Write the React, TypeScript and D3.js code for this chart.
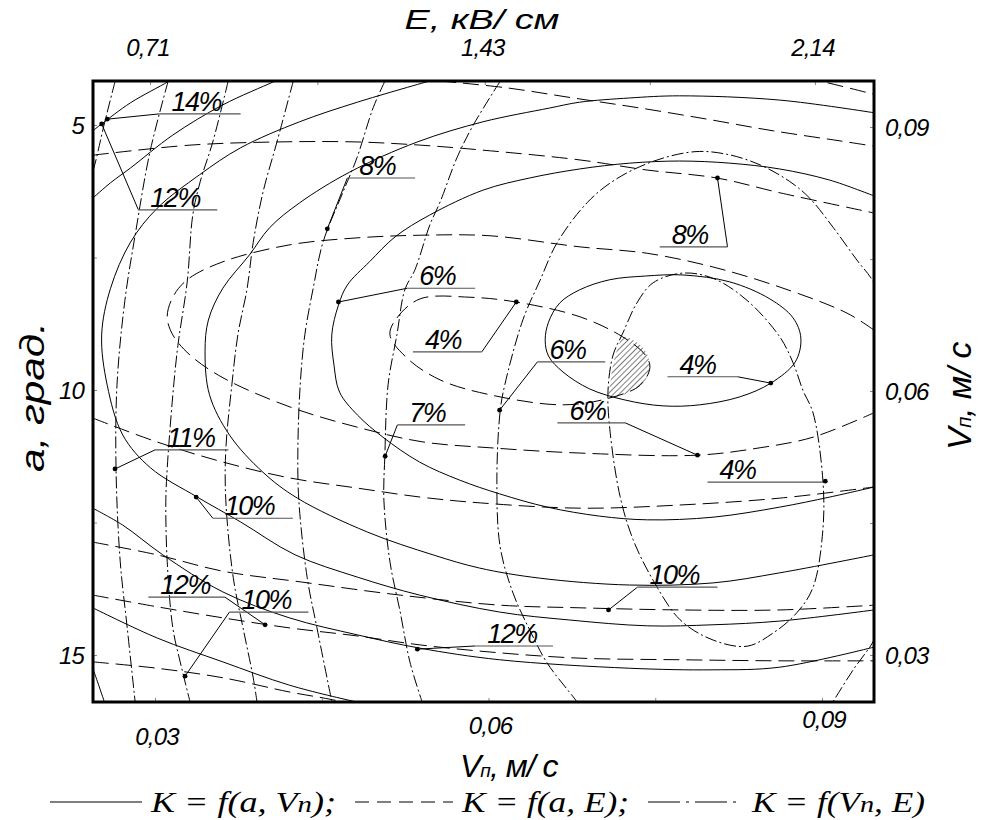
import * as d3 from 'd3';
import React, { useRef, useEffect } from 'react';

// ---- axis ticks ----
const vnTicks = [0.03, 0.06, 0.09];
const vnMinor = [0.03, 0.045, 0.06, 0.075, 0.09];
const aTicks = [5, 10, 15];
const aMinor = [5, 7.5, 10, 12.5, 15];
const eTicks = [0.71, 1.43, 2.14];
const eMinor = [0.71, 1.07, 1.43, 1.785, 2.14];
const vnRightTicks = [0.09, 0.06, 0.03];

// ---- K = f(a, Vn): points are [Vn, a] ----
const solid1 = [[0.0651,9.06],[0.0654,8.72],[0.0664,8.36],[0.0682,8.11],[0.0709,7.92],[0.0741,7.85],[0.0775,7.83],[0.0817,7.96],[0.0853,8.28],[0.0874,8.64],[0.0881,9.02],[0.0876,9.47],[0.0854,9.87],[0.0826,10.13],[0.0790,10.28],[0.0757,10.30],[0.0723,10.19],[0.0691,9.98],[0.0667,9.66],[0.0654,9.36]];
const solid2 = [[0.0947,6.34],[0.0907,6.04],[0.0862,5.83],[0.0817,5.72],[0.0772,5.68],[0.0727,5.72],[0.0682,5.83],[0.0637,6.00],[0.0595,6.23],[0.0547,6.70],[0.0516,7.11],[0.0493,7.58],[0.0473,8.02],[0.0465,8.40],[0.0459,8.96],[0.0461,9.53],[0.0466,10.04],[0.0482,10.47],[0.0505,10.89],[0.0538,11.36],[0.0574,11.70],[0.0610,11.96],[0.0653,12.21],[0.0700,12.38],[0.0743,12.45],[0.0802,12.40],[0.0862,12.21],[0.0907,12.02],[0.0947,11.83]];
const solid3 = [[0.0947,4.77],[0.0862,4.53],[0.0772,4.45],[0.0727,4.49],[0.0682,4.57],[0.0655,4.68],[0.0595,4.94],[0.0536,5.32],[0.0475,5.89],[0.0430,6.47],[0.0403,6.94],[0.0385,7.45],[0.0361,8.08],[0.0348,8.68],[0.0345,9.28],[0.0349,10.09],[0.0367,10.85],[0.0397,11.55],[0.0428,12.04],[0.0491,12.68],[0.0550,13.11],[0.0592,13.36],[0.0646,13.55],[0.0727,13.68],[0.0802,13.64],[0.0862,13.45],[0.0947,13.11]];
const solid4 = [[0.0547,4.17],[0.0482,4.57],[0.0430,4.94],[0.0377,5.43],[0.0340,5.94],[0.0302,6.57],[0.0278,7.21],[0.0260,8.08],[0.0252,8.96],[0.0257,9.91],[0.0271,10.85],[0.0296,11.47],[0.0338,12.02],[0.0377,12.49],[0.0426,13.11],[0.0482,13.53],[0.0538,13.87],[0.0610,14.19],[0.0673,14.34],[0.0743,14.45],[0.0802,14.43],[0.0862,14.36],[0.0947,14.15]];
const solid5a = [[0.0244,6.38],[0.0260,6.09],[0.0278,5.81],[0.0316,5.19],[0.0361,4.62],[0.0406,4.19],[0.0412,4.13]];
const solid5b = [[0.0244,12.23],[0.0271,12.55],[0.0307,13.11],[0.0361,13.81],[0.0421,14.30],[0.0482,14.62],[0.0538,14.87],[0.0610,15.09],[0.0727,15.25],[0.0802,15.28],[0.0862,15.23],[0.0947,14.85]];
const solid6a = [[0.0244,5.11],[0.0252,4.98],[0.0278,4.58],[0.0311,4.19],[0.0315,4.13]];
const solid6b = [[0.0244,14.11],[0.0302,14.68],[0.0361,15.13],[0.0421,15.57],[0.0482,15.89],[0.0489,15.92]];
const solid7 = [[0.0244,15.25],[0.0249,15.55],[0.0255,15.92]];

// ---- K = f(a, E): points are [E, a] ----
const dashed1 = [[1.226,8.96],[1.241,8.64],[1.291,8.28],[1.398,8.25],[1.497,8.34],[1.635,8.62],[1.727,9.00],[1.775,9.34],[1.785,9.58],[1.764,9.91],[1.699,10.15],[1.598,10.28],[1.441,10.09],[1.334,9.81],[1.263,9.40]];
const dashed2 = [[2.267,8.87],[2.209,8.55],[2.065,8.06],[1.921,7.68],[1.779,7.42],[1.635,7.30],[1.441,7.09],[1.291,7.08],[1.155,7.13],[1.011,7.26],[0.867,7.58],[0.790,7.92],[0.759,8.25],[0.747,8.62],[0.759,8.96],[0.796,9.34],[0.867,9.77],[1.011,10.32],[1.155,10.70],[1.297,10.98],[1.441,11.09],[1.635,11.19],[1.886,11.23],[2.022,11.09],[2.136,10.89],[2.267,10.43]];
const dashed3a = [[0.587,5.57],[0.796,5.38],[0.983,5.32],[1.155,5.32],[1.291,5.38],[1.420,5.47],[1.635,5.66],[1.779,5.85],[1.929,6.00],[2.065,6.28],[2.267,6.66]];
const dashed3b = [[0.587,10.53],[0.725,10.98],[0.867,11.36],[1.011,11.66],[1.155,11.85],[1.291,12.02],[1.420,12.13],[1.635,12.23],[1.850,12.17],[2.065,12.04],[2.267,11.83]];
const dashed4a = [[1.334,4.17],[1.478,4.30],[1.620,4.49],[1.764,4.68],[1.908,4.89],[2.050,5.11],[2.194,5.30],[2.267,5.40]];
const dashed4b = [[0.587,12.87],[0.725,13.11],[0.867,13.42],[1.033,13.62],[1.248,13.87],[1.463,14.06],[1.635,14.11],[1.850,14.15],[2.065,14.15],[2.267,14.06]];
const dashed5a = [[2.119,4.11],[2.151,4.17],[2.267,4.42]];
const dashed5b = [[0.587,13.87],[0.725,14.09],[0.867,14.30],[1.011,14.49],[1.155,14.64],[1.291,14.81],[1.463,14.96],[1.635,15.06],[1.850,15.09],[2.065,15.11],[2.267,15.11]];
const dashed6 = [[0.587,15.13],[0.725,15.25],[0.867,15.43],[1.011,15.70],[1.082,15.81],[1.140,15.91]];

// ---- K = f(Vn, E): points are [E, Vn] ----
const dd0 = [[0.635,0.0952],[0.611,0.0902],[0.594,0.0863],[0.585,0.0845]];
const dd1 = [[0.749,0.0952],[0.710,0.0872],[0.678,0.0777],[0.656,0.0703],[0.639,0.0607],[0.637,0.0510],[0.646,0.0406],[0.661,0.0331],[0.678,0.0247]];
const dd2 = [[0.878,0.0952],[0.845,0.0883],[0.818,0.0838],[0.802,0.0800],[0.790,0.0724],[0.770,0.0652],[0.759,0.0595],[0.747,0.0512],[0.744,0.0474],[0.747,0.0406],[0.759,0.0331],[0.775,0.0292],[0.796,0.0247]];
const dd3 = [[1.018,0.0952],[0.983,0.0883],[0.953,0.0826],[0.932,0.0769],[0.919,0.0717],[0.899,0.0664],[0.886,0.0607],[0.873,0.0533],[0.873,0.0476],[0.889,0.0388],[0.910,0.0331],[0.932,0.0274],[0.940,0.0247]];
const dd4 = [[1.215,0.0952],[1.190,0.0922],[1.155,0.0865],[1.125,0.0826],[1.082,0.0769],[1.061,0.0717],[1.043,0.0664],[1.033,0.0607],[1.028,0.0533],[1.030,0.0476],[1.048,0.0388],[1.069,0.0331],[1.101,0.0247]];
const dd5 = [[1.463,0.0952],[1.405,0.0902],[1.370,0.0865],[1.334,0.0815],[1.312,0.0789],[1.280,0.0738],[1.258,0.0715],[1.241,0.0664],[1.222,0.0607],[1.215,0.0526],[1.213,0.0476],[1.226,0.0406],[1.248,0.0349],[1.269,0.0292],[1.295,0.0247]];
const dd6 = [[1.656,0.0226],[1.628,0.0247],[1.564,0.0291],[1.527,0.0328],[1.491,0.0370],[1.463,0.0423],[1.456,0.0499],[1.463,0.0577],[1.473,0.0607],[1.512,0.0681],[1.549,0.0726],[1.585,0.0768],[1.650,0.0814],[1.710,0.0840],[1.792,0.0861],[1.882,0.0872],[1.951,0.0869],[2.022,0.0857],[2.086,0.0838],[2.129,0.0819],[2.179,0.0786],[2.230,0.0749],[2.267,0.0723],[2.308,0.0669],[2.329,0.0590],[2.334,0.0510],[2.319,0.0408],[2.291,0.0351],[2.267,0.0317],[2.222,0.0283],[2.179,0.0247],[2.155,0.0226]];
const dd7 = [[1.727,0.0666],[1.757,0.0700],[1.792,0.0723],[1.856,0.0734],[1.921,0.0728],[1.994,0.0703],[2.065,0.0661],[2.093,0.0632],[2.114,0.0601],[2.136,0.0575],[2.157,0.0499],[2.157,0.0442],[2.136,0.0377],[2.101,0.0348],[2.050,0.0325],[1.994,0.0310],[1.921,0.0317],[1.850,0.0340],[1.792,0.0385],[1.749,0.0431],[1.721,0.0480],[1.699,0.0556],[1.695,0.0601],[1.706,0.0641]];

// optimum zone (hatched), [Vn, a]
const optimum = [[0.0721,9.00],[0.0734,9.11],[0.0743,9.34],[0.0745,9.58],[0.0740,9.85],[0.0727,10.04],[0.0709,10.15],[0.0710,9.81],[0.0713,9.43],[0.0717,9.17]];

// contour labels, positions in [Vn, a]
const notes = [
  { label: '14%', dot: [0.0257, 4.89], a: 4.79, from: 0.0304, to: 0.0377, hook: 'start' },
  { label: '12%', dot: [0.0252, 4.98], a: 6.60, from: 0.0285, to: 0.0356, hook: 'start' },
  { label: '8%', dot: [0.0455, 6.96], a: 6.00, from: 0.0473, to: 0.0534, hook: 'start' },
  { label: '6%', dot: [0.0465, 8.34], a: 8.08, from: 0.0527, to: 0.0588, hook: 'start' },
  { label: '4%', dot: [0.0625, 8.34], a: 9.28, from: 0.0532, to: 0.0594, hook: 'end' },
  { label: '8%', dot: [0.0806, 6.00], a: 7.30, from: 0.0754, to: 0.0815, hook: 'end' },
  { label: '6%', dot: [0.0610, 10.38], a: 9.47, from: 0.0644, to: 0.0705, hook: 'start' },
  { label: '4%', dot: [0.0854, 9.87], a: 9.75, from: 0.0761, to: 0.0824, hook: 'end' },
  { label: '6%', dot: [0.0788, 11.23], a: 10.62, from: 0.0662, to: 0.0723, hook: 'end' },
  { label: '4%', dot: [0.0903, 11.72], a: 11.74, from: 0.0797, to: 0.0903, hook: 'end' },
  { label: '7%', dot: [0.0507, 11.25], a: 10.66, from: 0.0518, to: 0.0579, hook: 'start' },
  { label: '11%', dot: [0.0264, 11.49], a: 11.13, from: 0.0300, to: 0.0366, hook: 'start' },
  { label: '10%', dot: [0.0337, 12.02], a: 12.42, from: 0.0352, to: 0.0424, hook: 'start' },
  { label: '12%', dot: [0.0399, 14.43], a: 13.91, from: 0.0294, to: 0.0363, hook: 'end' },
  { label: '10%', dot: [0.0327, 15.40], a: 14.19, from: 0.0367, to: 0.0438, hook: 'start' },
  { label: '12%', dot: [0.0536, 14.89], a: 14.83, from: 0.0588, to: 0.0658, hook: 'start' },
  { label: '10%', dot: [0.0708, 14.15], a: 13.72, from: 0.0734, to: 0.0806, hook: 'start' },
];

const comma = (v) => String(v).replace('.', ',');

function App() {
  const svgRef = useRef(null);

  useEffect(() => {
    const svg = d3.select(svgRef.current);
    svg.selectAll('*').remove();

    const left = 93, right = 874, top = 81, bottom = 702;
    const sans = '"Liberation Sans", Arial, sans-serif';
    const serif = '"Liberation Serif", "Times New Roman", serif';

    /* Scales */
    const xVn = d3.scaleLinear().domain([0.02442, 0.09468]).range([left, right]);
    const yA = d3.scaleLinear().domain([4.17, 15.887]).range([top, bottom]);
    const xE = d3.scaleLinear().domain([0.5874, 2.267]).range([left, right]);
    const yVn = d3.scaleLinear().domain([0.09523, 0.02466]).range([top, bottom]);

    const defs = svg.append('defs');
    defs.append('clipPath').attr('id', 'plot-clip')
      .append('rect').attr('x', left).attr('y', top)
      .attr('width', right - left).attr('height', bottom - top);
    const pat = defs.append('pattern').attr('id', 'hatch')
      .attr('patternUnits', 'userSpaceOnUse').attr('width', 4).attr('height', 4)
      .attr('patternTransform', 'rotate(45)');
    pat.append('line').attr('x1', 0).attr('y1', 0).attr('x2', 0).attr('y2', 4)
      .attr('stroke', '#000').attr('stroke-width', 1);

    const plot = svg.append('g').attr('clip-path', 'url(#plot-clip)');

    /* Line generators */
    const mk = (sx, sy, closed) =>
      d3.line().x((d) => sx(d[0])).y((d) => sy(d[1]))
        .curve(closed ? d3.curveCatmullRomClosed.alpha(0.5) : d3.curveCatmullRom.alpha(0.5));

    const families = [
      { sx: xVn, sy: yA, dash: null, curves: [[solid1, true], [solid2], [solid3], [solid4], [solid5a], [solid5b], [solid6a], [solid6b], [solid7]] },
      { sx: xE, sy: yA, dash: '16 7', curves: [[dashed1, true], [dashed2], [dashed3a], [dashed3b], [dashed4a], [dashed4b], [dashed5a], [dashed5b], [dashed6]] },
      { sx: xE, sy: yVn, dash: '12 3 2 3', curves: [[dd0], [dd1], [dd2], [dd3], [dd4], [dd5], [dd6], [dd7, true]] },
    ];

    plot.append('path')
      .attr('d', mk(xVn, yA, true)(optimum))
      .attr('fill', 'url(#hatch)').attr('stroke', 'none');

    families.forEach((f) => {
      f.curves.forEach(([pts, closed]) => {
        plot.append('path')
          .attr('d', mk(f.sx, f.sy, !!closed)(pts))
          .attr('fill', 'none')
          .attr('stroke', '#000')
          .attr('stroke-width', 1)
          .attr('stroke-dasharray', f.dash);
      });
    });

    /* Labels with leaders */
    const ann = svg.append('g');
    notes.forEach((n) => {
      const ux0 = xVn(n.from), ux1 = xVn(n.to), uy = yA(n.a);
      const hx = n.hook === 'start' ? ux0 : ux1;
      ann.append('line')
        .attr('x1', xVn(n.dot[0])).attr('y1', yA(n.dot[1]))
        .attr('x2', hx).attr('y2', uy)
        .attr('stroke', '#000').attr('stroke-width', 1);
      ann.append('line')
        .attr('x1', ux0).attr('y1', uy).attr('x2', ux1).attr('y2', uy)
        .attr('stroke', '#555').attr('stroke-width', 1.2);
      ann.append('circle')
        .attr('cx', xVn(n.dot[0])).attr('cy', yA(n.dot[1])).attr('r', 2.4)
        .attr('fill', '#000');
      ann.append('text')
        .attr('x', ux0 + 12).attr('y', uy - 3)
        .attr('font-family', sans).attr('font-style', 'italic')
        .attr('font-size', 27).attr('letter-spacing', -1.5)
        .text(n.label);
    });

    /* Axis ticks (inside the frame) */
    const tickStyle = (g) => {
      g.select('.domain').remove();
      g.selectAll('line').attr('stroke', '#888');
    };
    svg.append('g').attr('transform', `translate(0, ${bottom})`)
      .call(d3.axisBottom(xVn).tickValues(vnMinor).tickSize(-4).tickFormat(() => '')).call(tickStyle);
    svg.append('g').attr('transform', `translate(0, ${top})`)
      .call(d3.axisTop(xE).tickValues(eMinor).tickSize(-4).tickFormat(() => '')).call(tickStyle);
    svg.append('g').attr('transform', `translate(${left}, 0)`)
      .call(d3.axisLeft(yA).tickValues(aMinor).tickSize(-4).tickFormat(() => '')).call(tickStyle);
    svg.append('g').attr('transform', `translate(${right}, 0)`)
      .call(d3.axisRight(yVn).tickValues(vnMinor).tickSize(-4).tickFormat(() => '')).call(tickStyle);

    /* Frame */
    svg.append('rect')
      .attr('x', left).attr('y', top)
      .attr('width', right - left).attr('height', bottom - top)
      .attr('fill', 'none').attr('stroke', '#000').attr('stroke-width', 3);

    /* Tick labels */
    const lab = svg.append('g')
      .attr('font-family', sans).attr('font-style', 'italic').attr('font-size', 24)
      .attr('letter-spacing', -0.8);
    const bottomLabelY = [745, 734, 728];
    vnTicks.forEach((v, i) => {
      lab.append('text').attr('x', xVn(v) + 2).attr('y', bottomLabelY[i])
        .attr('text-anchor', 'middle').text(comma(v));
    });
    eTicks.forEach((v) => {
      lab.append('text').attr('x', xE(v) - 2).attr('y', 56)
        .attr('text-anchor', 'middle').text(comma(v));
    });
    aTicks.forEach((v) => {
      lab.append('text').attr('x', 84).attr('y', yA(v) + 9)
        .attr('text-anchor', 'end').text(String(v));
    });
    vnRightTicks.forEach((v) => {
      lab.append('text').attr('x', 885).attr('y', yVn(v) + 9).text(comma(v));
    });

    /* Axis titles */
    svg.append('text')
      .attr('x', 482).attr('y', 29).attr('text-anchor', 'middle')
      .attr('font-family', sans).attr('font-style', 'italic').attr('font-size', 28)
      .attr('textLength', 155).attr('lengthAdjust', 'spacingAndGlyphs')
      .text('E, кВ/ см');

    const vnTitle = (g) => {
      g.append('tspan').text('V');
      g.append('tspan').attr('font-size', '0.6em').text('п');
      g.append('tspan').text(', м/ с');
    };
    svg.append('text')
      .attr('x', 460).attr('y', 777)
      .attr('font-family', sans).attr('font-style', 'italic').attr('font-size', 32)
      .attr('letter-spacing', -1)
      .call(vnTitle);
    svg.append('text')
      .attr('transform', 'translate(971, 450) rotate(-90)')
      .attr('font-family', sans).attr('font-style', 'italic').attr('font-size', 34)
      .attr('letter-spacing', -0.5)
      .call(vnTitle);
    svg.append('text')
      .attr('transform', 'translate(44, 472) rotate(-90)')
      .attr('font-family', sans).attr('font-style', 'italic').attr('font-size', 34)
      .attr('textLength', 150).attr('lengthAdjust', 'spacingAndGlyphs')
      .text('a, град.');

    /* Legend */
    const legend = svg.append('g');
    const legendItems = [
      { x1: 50, x2: 142, tx: 151, tw: 185, dash: null, pre: 'K = f(a, V', sub: 'n', post: ');' },
      { x1: 355, x2: 453, tx: 462, tw: 167, dash: '14 8', pre: 'K = f(a, E);', sub: '', post: '' },
      { x1: 648, x2: 742, tx: 752, tw: 173, dash: '32 6 3 6', pre: 'K = f(V', sub: 'n', post: ', E)' },
    ];
    legendItems.forEach((d) => {
      legend.append('line')
        .attr('x1', d.x1).attr('x2', d.x2).attr('y1', 802).attr('y2', 802)
        .attr('stroke', '#000').attr('stroke-width', 1)
        .attr('stroke-dasharray', d.dash);
      const t = legend.append('text')
        .attr('x', d.tx).attr('y', 812)
        .attr('font-family', serif).attr('font-style', 'italic').attr('font-size', 29)
        .attr('textLength', d.tw).attr('lengthAdjust', 'spacingAndGlyphs');
      t.append('tspan').text(d.pre);
      if (d.sub) t.append('tspan').attr('font-size', '0.8em').text(d.sub);
      if (d.post) t.append('tspan').text(d.post);
    });
  }, []);

  return (
    <svg
      ref={svgRef}
      width={982}
      height={820}
      style={{ position: 'absolute', left: 0, top: 0, background: '#fff' }}
    ></svg>
  );
}

export default App;
